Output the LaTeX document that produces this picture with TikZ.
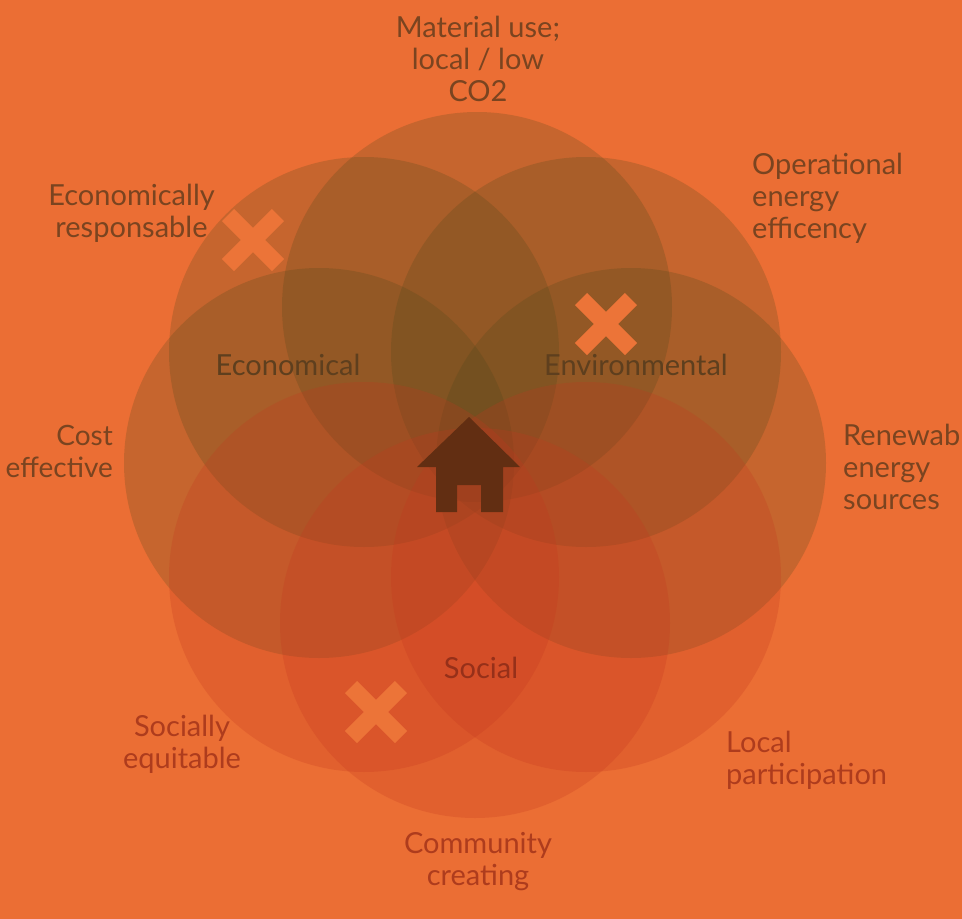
\documentclass[tikz,border=0pt]{standalone}
\usepackage{fontspec}
\setmainfont{Lato}
\definecolor{bgor}{HTML}{EB6E34}
\definecolor{darkc}{HTML}{464619}
\definecolor{redc}{HTML}{C4361E}
\definecolor{crossc}{HTML}{EC7438}
\definecolor{txtbrown}{HTML}{7A4420}
\definecolor{txtdark}{HTML}{5E3F1E}
\definecolor{txtred}{HTML}{AE3C1D}
\definecolor{txtsoc}{HTML}{963019}
\definecolor{housec}{HTML}{622E12}
\tikzset{
  x=1pt,y=-1pt,
  upc/.style={fill=darkc,fill opacity=.22,draw=none},
  lowc/.style={fill=redc,fill opacity=.24,draw=none},
  lab/.style={align=center,font=\fontsize{29}{32}\selectfont,inner sep=0pt},
  labl/.style={lab,align=left,anchor=west},
  labr/.style={lab,align=right,anchor=east},
  crossbar/.style={line width=17pt,draw=crossc,line cap=butt}
}
\begin{document}
\begin{tikzpicture}
\useasboundingbox (0,0) rectangle (962,919);
\clip (0,0) rectangle (962,919);
\fill[bgor] (0,0) rectangle (962,919);
% upper circles
\fill[upc] (477,307) circle[radius=195];
\fill[upc] (364,352) circle[radius=195];
\fill[upc] (586,352) circle[radius=195];
\fill[upc] (319,463) circle[radius=195];
\fill[upc] (631,463) circle[radius=195];
% lower circles
\fill[lowc] (364,577) circle[radius=195];
\fill[lowc] (586,577) circle[radius=195];
\fill[lowc] (475,623) circle[radius=195];
% crosses
\foreach \cx/\cy/\s in {253/240/25,606/324/25,376/712/25}{
  \draw[crossbar] (\cx-\s,\cy-\s) -- (\cx+\s,\cy+\s);
  \draw[crossbar] (\cx-\s,\cy+\s) -- (\cx+\s,\cy-\s);
}
% house
\fill[housec] (469,417) -- (520,467) -- (503,467) -- (503,512) -- (481,512) -- (481,485) -- (457,485) -- (457,512) -- (436,512) -- (436,467) -- (417,467) -- cycle;
% labels
\node[lab,text=txtbrown] (mat) at (478,58.5) {Material use;\\local / low\\CO2};
\node[labl,text=txtbrown] (op) at (752,198) {Operational\\energy\\efficency};
\node[labl,text=txtbrown] (ren) at (843,467) {Renewable\\energy\\sources};
\node[lab,text=txtbrown] (ecr) at (131.5,213) {Economically\\responsable};
\node[labr,text=txtbrown,font=\fontsize{28}{32}\selectfont] (cost) at (113,451) {Cost\\effective};
\node[lab,text=txtdark] (eco) at (288,365) {Economical};
\node[lab,text=txtdark] (env) at (636,365) {Environmental};
\node[lab,text=txtsoc] (soc) at (481,668) {Social};
\node[lab,text=txtred] (seq) at (182,744) {Socially\\equitable};
\node[labl,text=txtred] (loc) at (726,760) {Local\\participation};
\node[lab,text=txtred] (com) at (478,862) {Community\\creating};
\end{tikzpicture}
\end{document}
